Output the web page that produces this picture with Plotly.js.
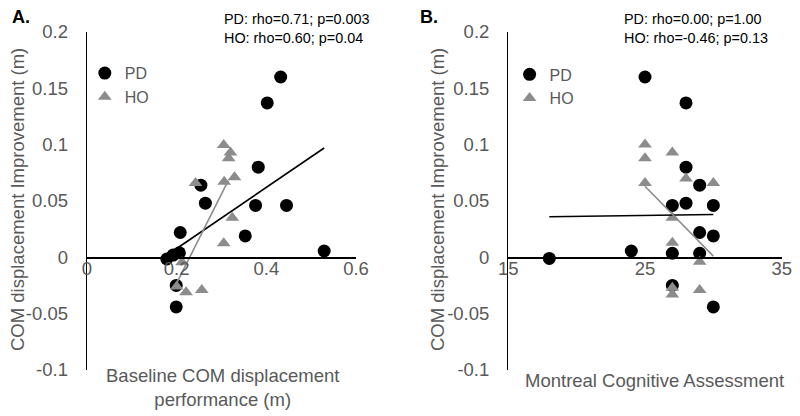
<!DOCTYPE html>
<html>
<head>
<meta charset="utf-8">
<script src="https://cdn.plot.ly/plotly-3.0.1.min.js"></script>
<style>html,body{margin:0;padding:0;background:#fff;}#chart{width:800px;height:416px;}</style>
</head>
<body>
<div id="chart"></div>
<script>
// ---- Panel A data (Baseline COM displacement performance vs improvement) ----
var pdBaselineX = [0.432, 0.402, 0.382, 0.254, 0.264, 0.376, 0.445, 0.208, 0.353, 0.529, 0.206, 0.192, 0.178, 0.199, 0.199];
var pdImproveA  = [0.160, 0.137, 0.080, 0.064, 0.048, 0.046, 0.046, 0.022, 0.019, 0.0056, 0.004, 0.002, -0.0015, -0.025, -0.044];
var hoBaselineX = [0.305, 0.320, 0.316, 0.242, 0.306, 0.329, 0.324, 0.305, 0.212, 0.200, 0.221, 0.256];
var hoImproveA  = [0.0997, 0.093, 0.088, 0.066, 0.067, 0.071, 0.035, 0.0124, -0.0045, -0.026, -0.031, -0.029];
var pdTrendAX = [0.178, 0.529];
var pdTrendAY = [0.0018, 0.097];
var hoTrendAX = [0.200, 0.315];
var hoTrendAY = [-0.023, 0.068];

// ---- Panel B data (Montreal Cognitive Assessment vs improvement) ----
var pdMocaX    = [25, 28, 28, 29, 27, 28, 30, 29, 30, 24, 27, 29, 18, 27, 30];
var pdImproveB = [0.160, 0.137, 0.080, 0.064, 0.046, 0.048, 0.046, 0.022, 0.019, 0.0056, 0.0036, 0.0036, -0.001, -0.025, -0.044];
var hoMocaX    = [25, 25, 27, 25, 28, 30, 27, 27, 29, 27, 27, 29];
var hoImproveB = [0.100, 0.088, 0.093, 0.066, 0.070, 0.066, 0.035, 0.013, -0.004, -0.027, -0.033, -0.029];
var pdTrendBX = [18, 30];
var pdTrendBY = [0.036, 0.038];
var hoTrendBX = [25, 30];
var hoTrendBY = [0.063, 0.001];

// ---- Tick labels and texts ----
var yTickVals = [0.2, 0.15, 0.1, 0.05, 0, -0.05, -0.1];
var yTickText = ["0.2", "0.15", "0.1", "0.05", "0", "-0.05", "-0.1"];
var xATickVals = [0, 0.2, 0.4, 0.6];
var xATickText = ["0", "0.2", "0.4", "0.6"];
var xBTickVals = [15, 25, 35];
var xBTickText = ["15", "25", "35"];
var seriesNames = ["PD", "HO"];
var statsA = "PD: rho=0.71; p=0.003<br>HO: rho=0.60; p=0.04";
var statsB = "PD: rho=0.00; p=1.00<br>HO: rho=-0.46; p=0.13";
var yTitle = "COM displacement Improvement (m)";
var xATitle = "Baseline COM displacement<br>performance (m)";
var xBTitle = "Montreal Cognitive Assessment";

var FONT = "Liberation Sans, Arial, sans-serif";
var GRAY_TXT = "#595959";
var TRI = "#8c8c8c";

var circ = {symbol: "circle", size: 13, color: "#000000", line: {width: 0}};
var tri = {symbol: "triangle-up", size: 12, color: TRI, line: {width: 0}};

var traces = [
  {x: pdBaselineX, y: pdImproveA, type: "scatter", mode: "markers", name: seriesNames[0], marker: circ, xaxis: "x", yaxis: "y", legend: "legend"},
  {x: hoBaselineX, y: hoImproveA, type: "scatter", mode: "markers", name: seriesNames[1], marker: tri, xaxis: "x", yaxis: "y", legend: "legend"},
  {x: pdTrendAX, y: pdTrendAY, type: "scatter", mode: "lines", line: {color: "#000", width: 1.6}, showlegend: false, xaxis: "x", yaxis: "y", hoverinfo: "skip"},
  {x: hoTrendAX, y: hoTrendAY, type: "scatter", mode: "lines", line: {color: TRI, width: 1.6}, showlegend: false, xaxis: "x", yaxis: "y", hoverinfo: "skip"},
  {x: pdMocaX, y: pdImproveB, type: "scatter", mode: "markers", name: seriesNames[0], marker: circ, xaxis: "x2", yaxis: "y2", legend: "legend2"},
  {x: hoMocaX, y: hoImproveB, type: "scatter", mode: "markers", name: seriesNames[1], marker: tri, xaxis: "x2", yaxis: "y2", legend: "legend2"},
  {x: pdTrendBX, y: pdTrendBY, type: "scatter", mode: "lines", line: {color: "#000", width: 1.6}, showlegend: false, xaxis: "x2", yaxis: "y2", hoverinfo: "skip"},
  {x: hoTrendBX, y: hoTrendBY, type: "scatter", mode: "lines", line: {color: TRI, width: 1.6}, showlegend: false, xaxis: "x2", yaxis: "y2", hoverinfo: "skip"}
];

var yDom = [0.1106, 0.9233];
var zeroPos = yDom[0] + (yDom[1] - yDom[0]) / 3;
var tickFont = {family: FONT, size: 18.5, color: GRAY_TXT};

function xAx(dom, range, tv, tt) {
  return {domain: dom, range: range, anchor: "free", position: zeroPos, showline: true, linecolor: "#000", linewidth: 1.3,
    showgrid: false, zeroline: false, ticks: "", tickvals: tv, ticktext: tt, tickfont: tickFont,
    ticklabelstandoff: -6, fixedrange: true};
}
function yAx(anchor) {
  return {domain: yDom, range: [-0.1, 0.2], anchor: anchor, showline: true, linecolor: "#000", linewidth: 1.3,
    showgrid: false, zeroline: false, ticks: "", tickvals: yTickVals, ticktext: yTickText, tickfont: tickFont,
    ticklabelstandoff: 14, fixedrange: true};
}

var legendCommon = {font: {family: FONT, size: 16, color: GRAY_TXT}, bgcolor: "rgba(0,0,0,0)", xanchor: "left", yanchor: "top", tracegroupgap: 0};

function px(x) { return x / 800; }
function py(y) { return 1 - y / 416; }

var layout = {
  width: 800, height: 416,
  margin: {l: 0, r: 0, t: 0, b: 0},
  paper_bgcolor: "#fff", plot_bgcolor: "rgba(0,0,0,0)",
  font: {family: FONT, color: GRAY_TXT},
  showlegend: true,
  xaxis: xAx([0.10875, 0.445], [0, 0.6], xATickVals, xATickText),
  yaxis: yAx("x"),
  xaxis2: xAx([0.6354, 0.9771], [15, 35], xBTickVals, xBTickText),
  yaxis2: yAx("x2"),
  legend: Object.assign({x: 0.106, y: 0.865}, legendCommon),
  legend2: Object.assign({x: 0.637, y: 0.862}, legendCommon),
  annotations: [
    {text: "<b>A.</b>", x: px(10), y: py(17), xanchor: "left", yanchor: "middle", xref: "paper", yref: "paper", showarrow: false, font: {family: FONT, size: 18, color: "#000"}},
    {text: "<b>B.</b>", x: px(418), y: py(17), xanchor: "left", yanchor: "middle", xref: "paper", yref: "paper", showarrow: false, font: {family: FONT, size: 18, color: "#000"}},
    {text: statsA, x: px(222), y: py(29), xanchor: "left", yanchor: "middle", align: "left", xref: "paper", yref: "paper", showarrow: false, font: {family: FONT, size: 14.4, color: "#000"}},
    {text: statsB, x: px(622), y: py(29), xanchor: "left", yanchor: "middle", align: "left", xref: "paper", yref: "paper", showarrow: false, font: {family: FONT, size: 14.4, color: "#000"}},
    {text: yTitle, x: px(17), y: py(200), textangle: -90, xanchor: "center", yanchor: "middle", xref: "paper", yref: "paper", showarrow: false, font: {family: FONT, size: 18.5, color: GRAY_TXT}},
    {text: yTitle, x: px(437), y: py(200), textangle: -90, xanchor: "center", yanchor: "middle", xref: "paper", yref: "paper", showarrow: false, font: {family: FONT, size: 18.5, color: GRAY_TXT}},
    {text: xATitle, x: px(222), y: py(387), xanchor: "center", yanchor: "middle", align: "center", xref: "paper", yref: "paper", showarrow: false, font: {family: FONT, size: 18.5, color: GRAY_TXT}},
    {text: xBTitle, x: px(654), y: py(380), xanchor: "center", yanchor: "middle", xref: "paper", yref: "paper", showarrow: false, font: {family: FONT, size: 18.5, color: GRAY_TXT}}
  ]
};

Plotly.newPlot("chart", traces, layout, {displayModeBar: false, staticPlot: true});
</script>
</body>
</html>
